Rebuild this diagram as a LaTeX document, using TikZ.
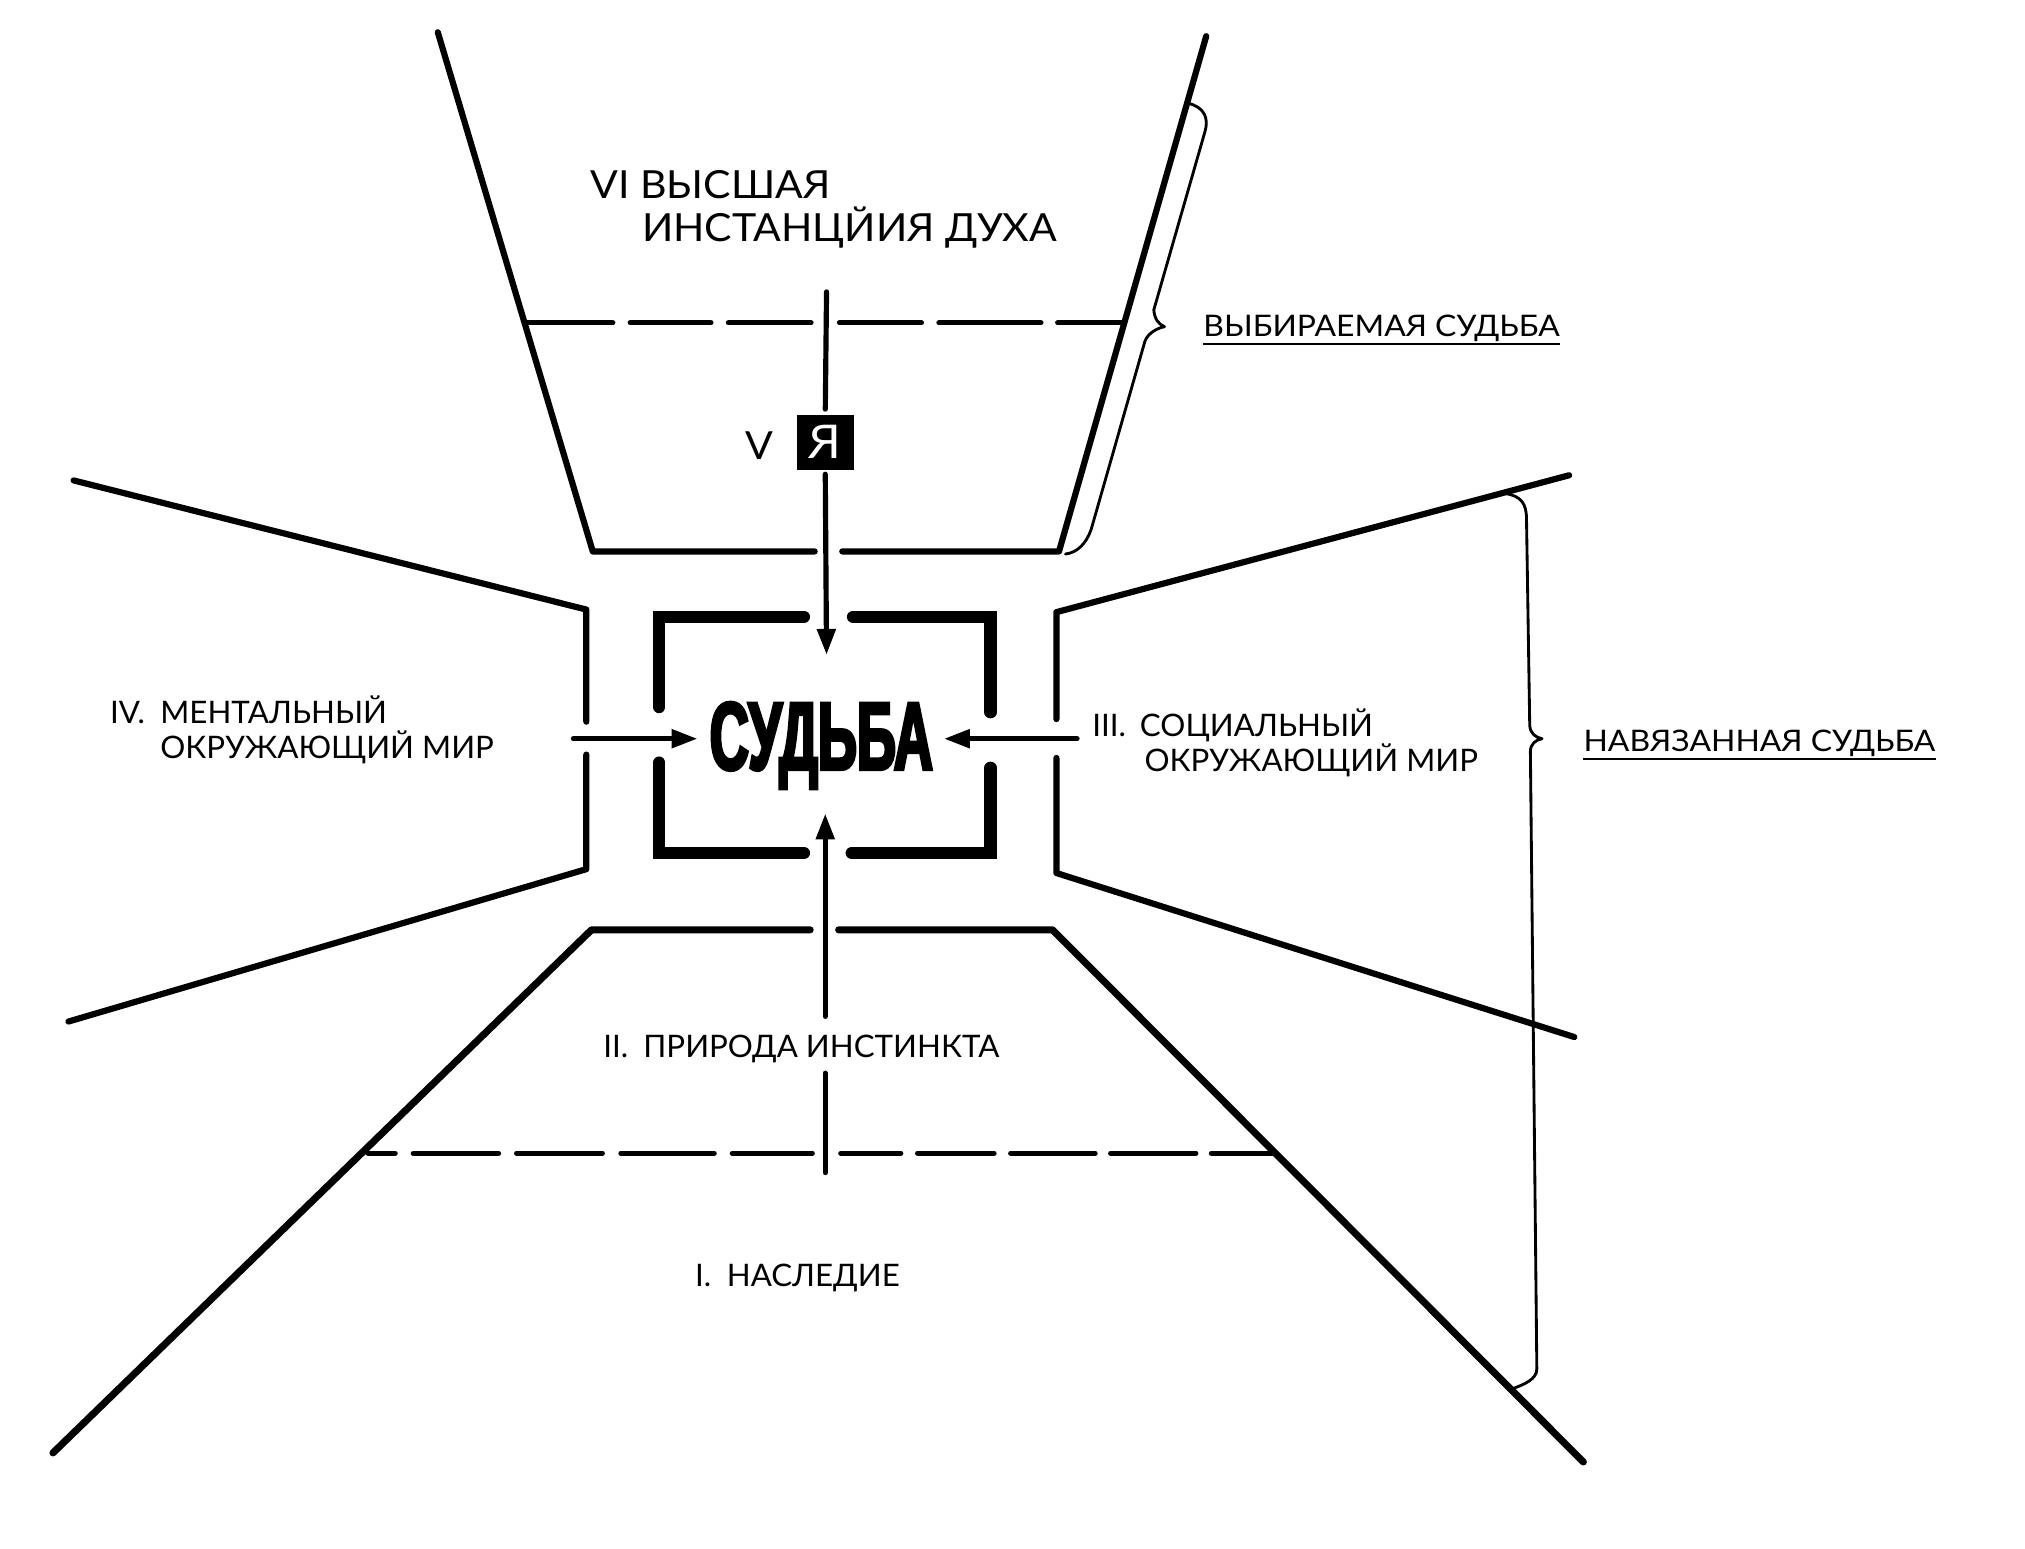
\documentclass[tikz,border=0pt]{standalone}
\usepackage{fontspec}
\setmainfont{Lato}
\newfontfamily\labfont[FakeStretch=1.01]{Lato}
\newfontfamily\bigfont[FakeStretch=1.06]{Lato}
\newfontfamily\sidefont[FakeStretch=1.075]{Lato}
\newfontfamily\fatefont[FakeStretch=0.56,FakeBold=3]{Liberation Sans}
\usetikzlibrary{arrows.meta}
\begin{document}
\begin{tikzpicture}[x=1pt,y=-1pt,
  wall/.style={line width=4.8pt, line cap=round, line join=round},
  heavy/.style={line width=5.5pt, line cap=round, line join=round},
  frame/.style={line width=9.5pt, line cap=round, line join=miter},
  dashseg/.style={line width=4pt, line cap=round},
  brace/.style={line width=2.2pt, line cap=round, line join=round},
  flow/.style={line width=4pt, line cap=round, -{Triangle[length=20pt,width=14pt]}},
  plain/.style={line width=4pt, line cap=round},
  lab/.style={font=\labfont\fontsize{24}{28}\selectfont, inner sep=0pt, anchor=base west},
  biglab/.style={font=\bigfont\fontsize{30}{34}\selectfont, inner sep=0pt, anchor=base west},
  side/.style={font=\sidefont\fontsize{23}{27}\selectfont, inner sep=0pt, anchor=base west},
  uline/.style={line width=1.5pt},
]
\fill[white] (0,0) rectangle (1568,1199);
\useasboundingbox (0,0) rectangle (1568,1199);

% ---------- upper funnel (VI) ----------
\draw[wall] (339,25) -- (459,427) -- (630.8,427);
\draw[wall] (652.2,427) -- (820,427) -- (934,28);
\foreach \a/\b in {408/474.5, 488/550.5, 564/628, 650/713.5, 727/806, 819/869}
  \draw[dashseg] (\a,250) -- (\b,250);

% ---------- lower funnel (I, II) ----------
\draw[heavy] (41,1125) -- (458,720) -- (627.3,720);
\draw[heavy] (649.4,720) -- (815,720) -- (1226,1132);
\foreach \a/\b in {285/306, 320/386, 400/466.4, 480.8/553, 567/629, 651/697.5, 710.5/769.7, 782.6/848, 860/926, 938/987}
  \draw[dashseg] (\a,893) -- (\b,893);

% ---------- side wedges (IV, III) ----------
\draw[wall] (57,372) -- (454,472) -- (454,558.8);
\draw[wall] (454,584.3) -- (454,673) -- (53,791);
\draw[wall] (1215,368) -- (818,474) -- (818,556.8);
\draw[wall] (818,586.9) -- (818,676) -- (1219,803);

% ---------- central frame ----------
\draw[frame] (622.5,477.5) -- (510.5,477.5) -- (510.5,547.5);
\draw[frame] (660.5,477.5) -- (767,477.5) -- (767,551.5);
\draw[frame] (510.5,590.5) -- (510.5,660.5) -- (622.5,660.5);
\draw[frame] (767,594.5) -- (767,660.5) -- (659.5,660.5);
\node[font=\fatefont\bfseries\fontsize{75}{75}\selectfont, inner sep=0pt, anchor=base] (fate) at (636,596) {СУДЬБА};

% ---------- V (ego) ----------
\node[fill=black, minimum width=44pt, minimum height=43pt, inner sep=0pt, text=white,
      font=\bigfont\fontsize{36}{36}\selectfont] (ya) at (639,342.5) {Я};
\node[biglab] (t5) at (577,356) {V};

% ---------- arrows ----------
\coordinate (topstart) at (640,226);
\coordinate (toptip) at (640,507);
\draw[plain, shorten >=4pt] (topstart) -- (ya.north);
\draw[flow, shorten <=3pt] (ya.south) -- (toptip);

\coordinate (botstart) at (639,908);
\coordinate (botgapA) at (639,831);
\coordinate (botgapB) at (639,787);
\coordinate (bottip) at (639,630);
\draw[plain] (botstart) -- (botgapA);
\draw[flow] (botgapB) -- (bottip);

\coordinate (lstart) at (444,572);
\coordinate (ltip) at (540,572);
\draw[flow] (lstart) -- (ltip);
\coordinate (rstart) at (834,572);
\coordinate (rtip) at (731,572);
\draw[flow] (rstart) -- (rtip);

% ---------- labels ----------
\node[biglab] (t6a) at (457,153.5) {VI ВЫСШАЯ};
\node[biglab] (t6b) at (497,187) {ИНСТАНЦЙИЯ ДУХА};

\node[lab] (t4n) at (85,560) {IV.};
\node[lab] (t4a) at (124,560) {МЕНТАЛЬНЫЙ};
\node[lab] (t4b) at (124,587) {ОКРУЖАЮЩИЙ МИР};

\node[lab] (t3n) at (845.6,570) {III.};
\node[lab] (t3a) at (882.5,570) {СОЦИАЛЬНЫЙ};
\node[lab] (t3b) at (886,597.5) {ОКРУЖАЮЩИЙ МИР};

\node[lab] (t2n) at (467,819) {II.};
\node[lab] (t2a) at (498,819) {ПРИРОДА ИНСТИНКТА};

\node[lab] (t1n) at (538,996) {I.};
\node[lab] (t1a) at (562.6,996) {НАСЛЕДИЕ};

\node[side] (chosen) at (931.6,260.7) {ВЫБИРАЕМАЯ СУДЬБА};
\draw[uline] ([yshift=-5.5pt]chosen.base west) -- ([yshift=-5.5pt]chosen.base east);
\node[side] (imposed) at (1226,582) {НАВЯЗАННАЯ СУДЬБА};
\draw[uline] ([yshift=-6pt]imposed.base west) -- ([yshift=-6pt]imposed.base east);

% ---------- braces ----------
\draw[brace] (920,80) .. controls (933,83) and (936,92) .. (933,102)
  -- (893.4,240) .. controls (894,247) and (897,251) .. (901.7,253)
  .. controls (896,254) and (889,258) .. (886.6,264)
  -- (844.9,410) .. controls (841,421) and (834,428) .. (825,429);
\draw[brace] (1165,382) .. controls (1178,384) and (1182,390) .. (1182,402)
  -- (1184.5,562) .. controls (1185,568) and (1189,571) .. (1194,572)
  .. controls (1189,573) and (1185,576) .. (1185,582)
  -- (1190,1060) .. controls (1190,1068) and (1180,1072) .. (1172,1075);
\end{tikzpicture}
\end{document}
